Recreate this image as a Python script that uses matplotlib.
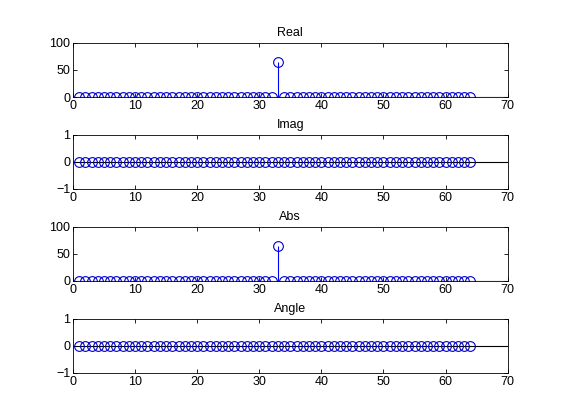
import numpy as np
import matplotlib.pyplot as plt

plt.rcParams['font.family'] = ['Liberation Sans', 'DejaVu Sans']
plt.rcParams['font.size'] = 9

n = np.arange(1, 65)
real_vals = [0] * 32 + [64] + [0] * 31
imag_vals = [0] * 64
abs_vals = [0] * 32 + [64] + [0] * 31
angle_vals = [0] * 64

panels = [
    ("Real", real_vals, (0, 100), [0, 50, 100]),
    ("Imag", imag_vals, (-1, 1), [-1, 0, 1]),
    ("Abs", abs_vals, (0, 100), [0, 50, 100]),
    ("Angle", angle_vals, (-1, 1), [-1, 0, 1]),
]
bottoms = [0.769, 0.550, 0.331, 0.112]

fig = plt.figure(figsize=(5.61, 4.2), dpi=100)
for (title, vals, ylim, yticks), b in zip(panels, bottoms):
    ax = fig.add_axes([0.130, b, 0.775, 0.129])
    ax.axhline(0, color='black', linewidth=0.8, zorder=1)
    ml, sl, bl = ax.stem(n, vals, linefmt='-', markerfmt='o', basefmt=' ')
    plt.setp(sl, color='#0000ff', linewidth=0.8)
    plt.setp(ml, markerfacecolor='none', markeredgecolor='#0000cc',
             markersize=7, markeredgewidth=0.8)
    ax.set_xlim(0, 70)
    ax.set_ylim(*ylim)
    ax.set_xticks(range(0, 71, 10))
    ax.set_yticks(yticks)
    ax.tick_params(direction='in', top=True, right=True, length=3,
                   width=0.6, pad=2)
    for s in ax.spines.values():
        s.set_linewidth(0.6)
    ax.set_title(title, fontsize=9, pad=5)

fig.savefig('out.png', dpi=100)
